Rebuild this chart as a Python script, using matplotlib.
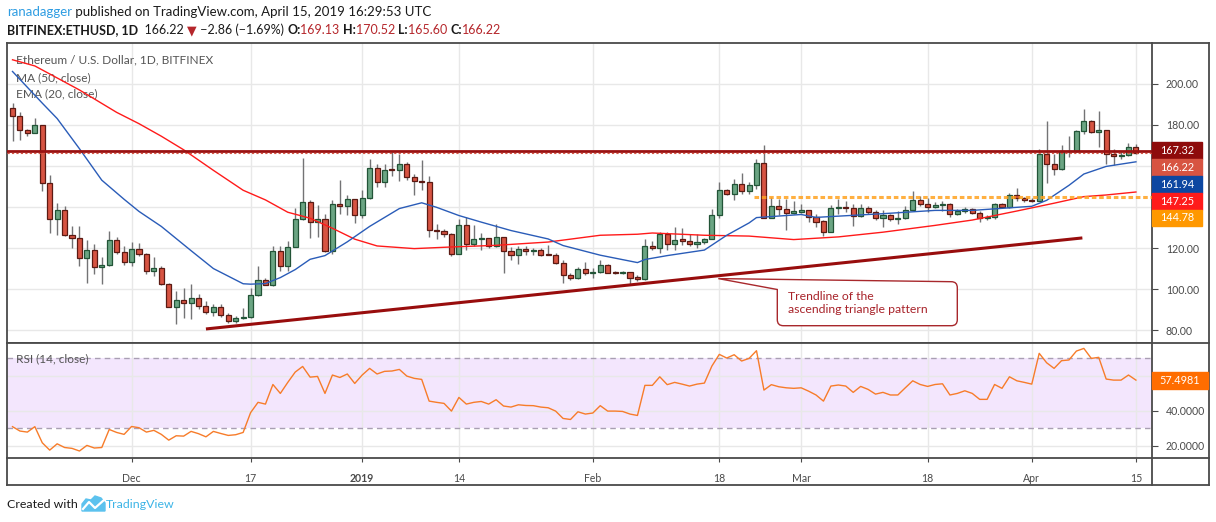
import numpy as np
import pandas as pd
import matplotlib
matplotlib.use("Agg")
import matplotlib.pyplot as plt
from matplotlib.path import Path
from matplotlib.patches import PathPatch, Rectangle, Polygon
from matplotlib.lines import Line2D

plt.rcParams['font.family'] = ['Lato', 'DejaVu Sans']

# ---- data (Bitfinex ETH/USD daily) ----
dates = pd.date_range("2018-11-15", "2019-04-15", freq="D")

opens = [187.9, 184.3, 177.5, 176.2, 179.7, 151.4, 134.0, 138.4, 126.4, 125.1,
         114.9, 118.8, 110.7, 111.6, 123.9, 118.1, 113.4, 119.7, 117.3, 108.9,
         110.5, 102.7, 91.5, 94.6, 93.0, 95.9, 91.8, 88.9, 91.5, 87.6,
         84.5, 85.7, 86.3, 97.0, 104.2, 102.2, 118.3, 111.0, 120.7, 134.0,
         142.4, 132.7, 134.3, 118.4, 141.6, 140.3, 144.0, 135.9, 144.5, 159.1,
         152.1, 158.6, 158.0, 160.7, 154.5, 152.6, 152.0, 128.9, 128.3, 126.8,
         117.1, 131.0, 122.1, 124.2, 124.7, 120.8, 125.5, 118.7, 116.8, 119.7,
         118.4, 118.9, 117.1, 116.6, 112.9, 107.1, 105.4, 110.0, 107.9, 108.5,
         111.9, 108.2, 107.7, 108.2, 105.9, 105.1, 120.8, 120.2, 127.0, 122.1,
         124.4, 123.6, 122.1, 123.1, 124.2, 135.9, 148.4, 146.4, 151.3, 147.7,
         150.8, 161.5, 134.8, 140.6, 139.2, 137.2, 137.7, 138.3, 135.1, 133.0,
         127.8, 139.5, 140.1, 139.5, 135.7, 139.6, 137.5, 134.8, 135.9, 134.3,
         134.6, 138.7, 143.5, 141.6, 140.0, 141.1, 141.6, 136.7, 138.0, 139.0,
         137.0, 134.6, 135.1, 141.6, 139.9, 145.9, 144.3, 143.5, 142.9, 165.6,
         160.7, 158.3, 167.0, 167.3, 176.7, 181.6, 176.4, 177.2, 165.6, 164.7,
         165.1, 169.13]
highs = [190.8, 186.2, 178.1, 183.5, 179.8, 155.4, 142.1, 140.5, 130.8, 130.8,
         123.8, 121.8, 115.4, 128.3, 125.4, 121.0, 123.0, 122.3, 117.8, 115.4,
         111.3, 102.9, 99.1, 100.3, 102.4, 97.5, 94.3, 92.7, 92.9, 88.3,
         87.0, 91.0, 100.3, 111.3, 105.6, 121.0, 121.0, 123.5, 139.5, 163.8,
         143.5, 140.8, 136.4, 143.5, 152.9, 145.6, 144.0, 148.1, 163.5, 160.7,
         160.7, 166.7, 165.9, 161.8, 156.2, 162.6, 154.9, 131.9, 129.4, 127.2,
         134.3, 135.1, 131.0, 127.3, 125.1, 131.9, 125.5, 120.5, 120.8, 120.8,
         120.2, 120.2, 121.6, 117.6, 114.0, 107.9, 110.8, 113.2, 110.5, 114.0,
         112.4, 108.6, 108.6, 108.4, 106.8, 124.6, 123.3, 127.8, 127.8, 130.2,
         129.9, 127.0, 127.0, 125.0, 139.1, 152.1, 148.9, 153.7, 156.5, 152.1,
         163.5, 169.9, 144.8, 144.0, 144.0, 142.7, 141.2, 138.5, 136.7, 133.5,
         140.8, 143.7, 142.9, 141.2, 141.6, 140.3, 138.3, 138.6, 136.4, 138.0,
         140.3, 147.6, 145.1, 144.5, 142.4, 142.9, 141.9, 139.1, 139.9, 139.6,
         138.0, 135.9, 141.9, 141.9, 146.8, 149.2, 144.8, 144.5, 168.3, 181.8,
         165.9, 169.9, 174.3, 177.2, 187.8, 182.1, 186.6, 177.2, 168.3, 166.7,
         171.1, 170.52]
lows = [172.1, 172.6, 174.6, 176.2, 147.8, 127.5, 126.4, 125.9, 120.2, 111.3,
        103.2, 107.2, 102.7, 111.3, 117.0, 111.8, 111.3, 116.2, 107.2, 106.4,
        101.9, 91.3, 83.2, 85.7, 85.3, 90.2, 88.1, 87.0, 86.5, 83.7,
        83.7, 85.4, 86.0, 96.7, 101.9, 101.6, 108.9, 108.9, 120.7, 133.5,
        124.8, 125.4, 118.1, 117.3, 136.4, 135.9, 132.2, 134.8, 144.0, 149.7,
        149.7, 155.0, 152.6, 152.9, 145.6, 148.1, 125.4, 124.2, 125.4, 116.0,
        117.1, 118.9, 120.8, 118.9, 120.2, 120.5, 107.6, 114.4, 112.1, 116.5,
        116.5, 116.0, 116.5, 112.1, 103.0, 104.3, 105.1, 106.7, 105.6, 107.9,
        107.6, 107.4, 107.4, 101.9, 104.0, 104.5, 119.2, 117.6, 119.2, 119.2,
        121.3, 120.8, 120.2, 122.1, 124.2, 134.6, 145.9, 143.5, 146.4, 146.4,
        148.9, 134.8, 134.8, 135.9, 128.9, 136.7, 137.0, 132.7, 130.2, 125.7,
        127.8, 136.7, 137.5, 130.6, 135.1, 136.7, 133.5, 130.2, 133.2, 131.5,
        134.3, 138.3, 140.3, 137.5, 139.6, 137.9, 135.1, 135.9, 137.0, 136.4,
        132.7, 133.8, 134.3, 139.6, 139.6, 142.9, 142.4, 142.4, 142.9, 151.6,
        155.4, 157.8, 164.3, 166.7, 175.6, 176.1, 169.1, 160.7, 160.2, 163.4,
        164.6, 165.60]
closes = [184.3, 177.5, 176.2, 179.7, 151.4, 134.0, 138.4, 126.4, 125.1, 114.9,
          118.8, 110.7, 111.6, 123.9, 118.1, 113.4, 119.7, 117.3, 108.9, 110.5,
          102.7, 91.5, 94.6, 93.0, 95.9, 91.8, 88.9, 91.5, 87.6, 84.5,
          85.7, 86.3, 97.0, 104.2, 102.2, 118.3, 111.0, 120.7, 134.0, 142.4,
          132.7, 134.3, 118.4, 141.6, 140.3, 144.0, 135.9, 144.5, 159.1, 152.1,
          158.1, 158.0, 160.7, 154.5, 152.6, 152.0, 128.9, 128.3, 126.8, 117.1,
          131.0, 122.1, 124.2, 124.7, 120.8, 125.5, 118.7, 116.8, 119.7, 118.4,
          118.9, 116.8, 116.6, 112.9, 107.1, 105.4, 110.0, 107.9, 108.5, 111.9,
          107.9, 107.7, 108.2, 105.6, 105.1, 120.8, 120.2, 127.0, 122.1, 124.1,
          123.6, 122.1, 123.1, 124.2, 135.9, 148.4, 146.4, 151.3, 147.7, 150.8,
          161.5, 134.8, 140.6, 139.0, 137.0, 138.0, 138.3, 135.1, 132.7, 127.8,
          139.6, 140.1, 139.5, 135.7, 139.6, 137.5, 134.8, 135.9, 134.3, 134.6,
          138.7, 143.5, 141.6, 140.0, 141.1, 141.6, 136.7, 138.0, 139.0, 137.0,
          134.6, 135.1, 141.6, 139.9, 145.9, 144.3, 143.2, 142.9, 165.6, 160.7,
          158.3, 167.0, 167.3, 176.7, 181.6, 176.4, 177.2, 165.6, 164.7, 165.1,
          169.1, 166.22]

# MA(50) and EMA(20) at sample days
ma_day = [0, 3, 9, 14, 17, 20, 23, 27, 31, 34, 37, 40, 43, 46, 49, 54, 59, 65,
          72, 79, 84, 86, 93, 99, 105, 111, 117, 124, 129, 135, 140, 144, 147, 151]
ma_val = [211.6, 208.6, 196.9, 186.0, 180.5, 174.4, 167.8, 157.8, 148.1, 143.4,
          137.4, 134.5, 129.6, 124.3, 121.0, 119.7, 120.5, 121.3, 122.9, 126.2,
          126.7, 127.3, 126.2, 125.8, 124.1, 125.4, 127.7, 131.0, 133.6, 138.0,
          141.8, 145.0, 145.8, 147.25]
ema_day = [0, 4, 6, 9, 12, 15, 17, 20, 24, 27, 31, 32, 34, 36, 38, 40, 42, 45,
           48, 52, 55, 57, 60, 63, 67, 72, 74, 79, 84, 85, 88, 93, 96, 99, 100,
           106, 108, 113, 117, 124, 129, 137, 139, 142, 144, 147, 151]
ema_val = [205.9, 190.5, 183.0, 168.3, 153.0, 143.7, 137.8, 130.5, 118.7, 110.0,
           102.6, 102.4, 102.7, 105.6, 109.5, 114.5, 116.3, 123.0, 130.5, 139.2,
           142.0, 139.8, 135.8, 132.6, 128.5, 124.4, 121.2, 116.5, 112.9, 114.4,
           116.3, 119.0, 126.2, 132.2, 134.8, 136.3, 134.9, 135.9, 136.7, 138.3,
           138.3, 140.3, 143.2, 150.5, 156.0, 159.7, 161.94]

rsi = [30.9, 28.4, 27.8, 30.9, 21.7, 17.5, 21.1, 19.0, 18.5, 17.0,
       20.2, 18.7, 19.0, 29.3, 27.6, 26.5, 31.0, 30.3, 27.8, 28.8,
       26.5, 23.2, 25.7, 25.5, 28.2, 26.9, 25.1, 28.2, 27.0, 25.9,
       26.3, 27.6, 38.9, 44.8, 43.8, 55.0, 49.9, 56.2, 62.1, 65.3,
       59.2, 59.6, 49.9, 60.4, 59.0, 61.0, 55.6, 60.4, 64.2, 61.0,
       62.5, 62.7, 63.6, 59.8, 58.5, 57.9, 45.5, 44.8, 44.2, 39.8,
       47.6, 43.8, 44.8, 45.3, 43.8, 46.3, 42.7, 42.1, 43.4, 43.0,
       42.9, 42.1, 41.7, 39.8, 35.6, 35.0, 39.4, 38.1, 38.7, 42.9,
       39.8, 39.8, 39.6, 38.1, 37.3, 54.5, 54.5, 59.4, 54.9, 56.2,
       55.2, 54.1, 55.2, 55.8, 65.5, 72.2, 70.1, 72.0, 68.4, 69.9,
       74.3, 51.8, 54.9, 53.7, 53.1, 52.8, 53.1, 51.2, 49.0, 45.5,
       54.1, 54.7, 54.1, 50.5, 53.9, 52.2, 49.5, 50.5, 49.0, 49.0,
       53.1, 57.1, 55.0, 53.9, 55.0, 55.4, 49.0, 49.9, 51.4, 49.9,
       46.5, 46.5, 55.0, 52.8, 59.4, 57.1, 56.2, 55.2, 72.8, 67.4,
       64.2, 68.6, 69.0, 74.1, 75.6, 69.9, 70.5, 58.1, 57.5, 57.5,
       60.4, 57.4981]

resistance = 167.32
support = 144.78
support_from = 99.7
trend_day = [26.0, 143.8]
trend_val = [80.6, 124.9]

price_ticks = [80, 100, 120, 140, 160, 180, 200]
price_hidden = [140, 160]     # covered by the value boxes on the scale
rsi_ticks = [20, 40, 60]
rsi_hidden = [60]
date_ticks = ["2018-12-01", "2018-12-17", "2019-01-01", "2019-01-14", "2019-02-01",
              "2019-02-18", "2019-03-01", "2019-03-18", "2019-04-01", "2019-04-15"]
date_labels = ["Dec", "17", "2019", "14", "Feb", "18", "Mar", "18", "Apr", "15"]

# ---- figure ----
W, H = 1216, 522
fig = plt.figure(figsize=(W / 100, H / 100), dpi=100)
fig.patch.set_facecolor("white")

def fbox(x0, y0, x1, y1):
    return [x0 / W, 1 - y1 / H, (x1 - x0) / W, (y1 - y0) / H]

ax = fig.add_axes(fbox(7, 43, 1152, 343))
rx = fig.add_axes(fbox(7, 343, 1152, 458), sharex=ax)

o = np.array(opens); h = np.array(highs); l = np.array(lows); c = np.array(closes)
x = np.arange(len(dates))
up = c >= o
tick_pos = [dates.get_loc(pd.Timestamp(d)) for d in date_ticks]

GRID = "#e8e8e8"
for a in (ax, rx):
    a.set_xticks(tick_pos)
    a.grid(True, color=GRID, lw=1)
    a.set_axisbelow(True)
    for s in a.spines.values():
        s.set_color("#4a4a4a")
        s.set_linewidth(1.3)

ax.set_xlim(-0.74, 153.16)
ax.set_ylim(73.77, 219.76)
ax.set_yticks(price_ticks)
ax.set_yticklabels(["" if v in price_hidden else f"{v:.2f}" for v in price_ticks])
ax.yaxis.tick_right()
ax.tick_params(axis="y", length=4, pad=6, labelsize=7.6, colors="#4a4a4a")
ax.tick_params(axis="x", length=0, labelbottom=False)

# candles
ax.vlines(x, l, h, color="#737375", lw=1, zorder=3)
body = np.maximum(np.abs(c - o), 0.4)
ax.bar(x[up], body[up], bottom=np.minimum(o, c)[up], width=0.68,
       color="#6ba583", edgecolor="#225437", linewidth=0.9, zorder=4)
ax.bar(x[~up], body[~up], bottom=np.minimum(o, c)[~up], width=0.68,
       color="#d75442", edgecolor="#5b1a13", linewidth=0.9, zorder=4)

ax.plot(ma_day, ma_val, color="#ff1a1a", lw=1.0, zorder=5)
ax.plot(ema_day, ema_val, color="#2a5cb8", lw=1.0, zorder=5)

ax.axhline(resistance, color="#9a1111", lw=2.0, zorder=6)
ax.axhline(closes[-1], color="#d75442", lw=0.8, ls=(0, (2, 2)), zorder=6)
ax.hlines(support, support_from, 153.16, color="#ffa21f", lw=2.2,
          ls=(0, (1.5, 0.9)), alpha=0.85, zorder=6)
ax.plot(trend_day, trend_val, color="#980d0d", lw=2.2, zorder=6,
        solid_capstyle="butt")

ax.text(0.0077, 0.942, "Ethereum / U.S. Dollar, 1D, BITFINEX", transform=ax.transAxes,
        fontsize=8.6, color="#555555", va="center", zorder=2)
ax.text(0.0077, 0.885, "MA (50, close)", transform=ax.transAxes,
        fontsize=8.6, color="#555555", va="center", zorder=2)
ax.text(0.0077, 0.830, "EMA (20, close)", transform=ax.transAxes,
        fontsize=8.6, color="#555555", va="center", zorder=2)

# RSI panel
rx.set_ylim(13.0, 78.7)
rx.axhspan(30, 70, color="#f3e6fd", zorder=0, lw=0)
rx.axhline(70, color="#a99fb3", lw=1, ls=(0, (4, 3)), zorder=1)
rx.axhline(30, color="#a99fb3", lw=1, ls=(0, (4, 3)), zorder=1)
rx.plot(x, rsi, color="#f77c2a", lw=1.0, zorder=4)
rx.set_yticks(rsi_ticks)
rx.set_yticklabels(["" if v in rsi_hidden else f"{v:.4f}" for v in rsi_ticks])
rx.yaxis.tick_right()
rx.tick_params(axis="y", length=4, pad=6, labelsize=7.6, colors="#4a4a4a")
rx.set_xticklabels(date_labels)
rx.tick_params(axis="x", length=3, pad=8, labelsize=7.6, colors="#4a4a4a")
for lab in rx.get_xticklabels():
    if lab.get_text() == "2019":
        lab.set_fontweight("bold")
rx.text(0.0077, 0.86, "RSI (14, close)", transform=rx.transAxes,
        fontsize=8.6, color="#555555", va="center", zorder=2)

# overlay in pixel units for frame, labels, header, footer
ov = fig.add_axes([0, 0, 1, 1], zorder=10)
ov.set_xlim(0, W)
ov.set_ylim(H, 0)
ov.axis("off")

for xs, ys in [([7, 7], [458, 485]), ([7, 1209], [485, 485]), ([1209, 1209], [43, 485]),
               ([1152, 1209], [43, 43]), ([1152, 1152], [458, 485]),
               ([1152, 1209], [343, 343]), ([1152, 1209], [458, 458])]:
    ov.add_line(Line2D(xs, ys, color="#4a4a4a", lw=1.3))

def ypix(a, v):
    return H - a.transData.transform((0, v))[1]

# stacked price boxes on the right scale
box_vals = [resistance, closes[-1], ema_val[-1], ma_val[-1], support]
box_cols = ["#8e0b0b", "#d75442", "#0d47a1", "#ff1b1b", "#ff9800"]
yb = ypix(ax, resistance)
for v, col in zip(box_vals, box_cols):
    ov.add_patch(Rectangle((1152, yb - 8.4), 50, 16.8, color=col, zorder=2))
    ov.text(1177, yb, f"{v:.2f}", color="white", fontsize=7.8, ha="center",
            va="center", zorder=3)
    yb += 16.8
yr = ypix(rx, rsi[-1])
ov.add_patch(Rectangle((1152, yr - 8.4), 56, 16.8, color="#ff6d00", zorder=2))
ov.text(1180, yr, f"{rsi[-1]:.4f}", color="white", fontsize=7.8, ha="center",
        va="center", zorder=3)

# callout for the trendline
verts = [(718.3, 278.6), (951.3, 281.7), (957.3, 281.7), (957.3, 287.7),
         (957.3, 319.7), (957.3, 325.7), (951.3, 325.7), (783.3, 325.7),
         (777.3, 325.7), (777.3, 319.7), (777.3, 289.5), (718.3, 278.6)]
codes = [Path.MOVETO, Path.LINETO, Path.CURVE3, Path.CURVE3, Path.LINETO,
         Path.CURVE3, Path.CURVE3, Path.LINETO, Path.CURVE3, Path.CURVE3,
         Path.LINETO, Path.CLOSEPOLY]
ov.add_patch(PathPatch(Path(verts, codes), facecolor="white", edgecolor="#a8282c",
                       lw=1.0, zorder=1))
ov.text(788, 297, "Trendline of the", color="#a8232a", fontsize=8.8, va="center")
ov.text(788, 309.5, "ascending triangle pattern", color="#a8232a", fontsize=8.8,
        va="center")

# header lines
renderer = fig.canvas.get_renderer()

def run(segments, x0, y0, size):
    xx = x0
    for s, col, wt in segments:
        t = ov.text(xx, y0, s, color=col, fontsize=size, fontweight=wt,
                    va="center", ha="left")
        xx += t.get_window_extent(renderer=renderer).width

BLK, RED = "#1a1a1a", "#b5262b"
run([("ranadagger", "#2f9de2", "normal"),
     (" published on TradingView.com, April 15, 2019 16:29:53 UTC", BLK, "normal")],
    7, 12, 9.5)
run([("BITFINEX:ETHUSD, 1D", BLK, "bold"), ("  166.22 ", BLK, "normal"),
     ("\u25bc", RED, "normal"), (" \u22122.86 (\u22121.69%) ", BLK, "normal"),
     ("O:", BLK, "bold"), ("169.13 ", RED, "normal"),
     ("H:", BLK, "bold"), ("170.52 ", RED, "normal"),
     ("L:", BLK, "bold"), ("165.60 ", RED, "normal"),
     ("C:", BLK, "bold"), ("166.22", RED, "normal")], 7, 30, 9.0)

# footer
ov.text(7, 504, "Created with", color="#1a1a1a", fontsize=8.9, va="center")
ov.add_patch(Polygon([(82, 511), (82, 504), (86, 499), (91, 500), (95, 496),
                      (101, 498), (105, 503), (105, 511)], closed=True,
                     color="#5cc2ee", zorder=2))
ov.add_line(Line2D([83, 89, 95, 104], [509, 502, 508, 500], color="white", lw=1.6,
                   zorder=3))
ov.text(106, 504, "TradingView", color="#3cb4e6", fontsize=8.9, va="center")

fig.savefig("out.png", dpi=100, facecolor="white")
